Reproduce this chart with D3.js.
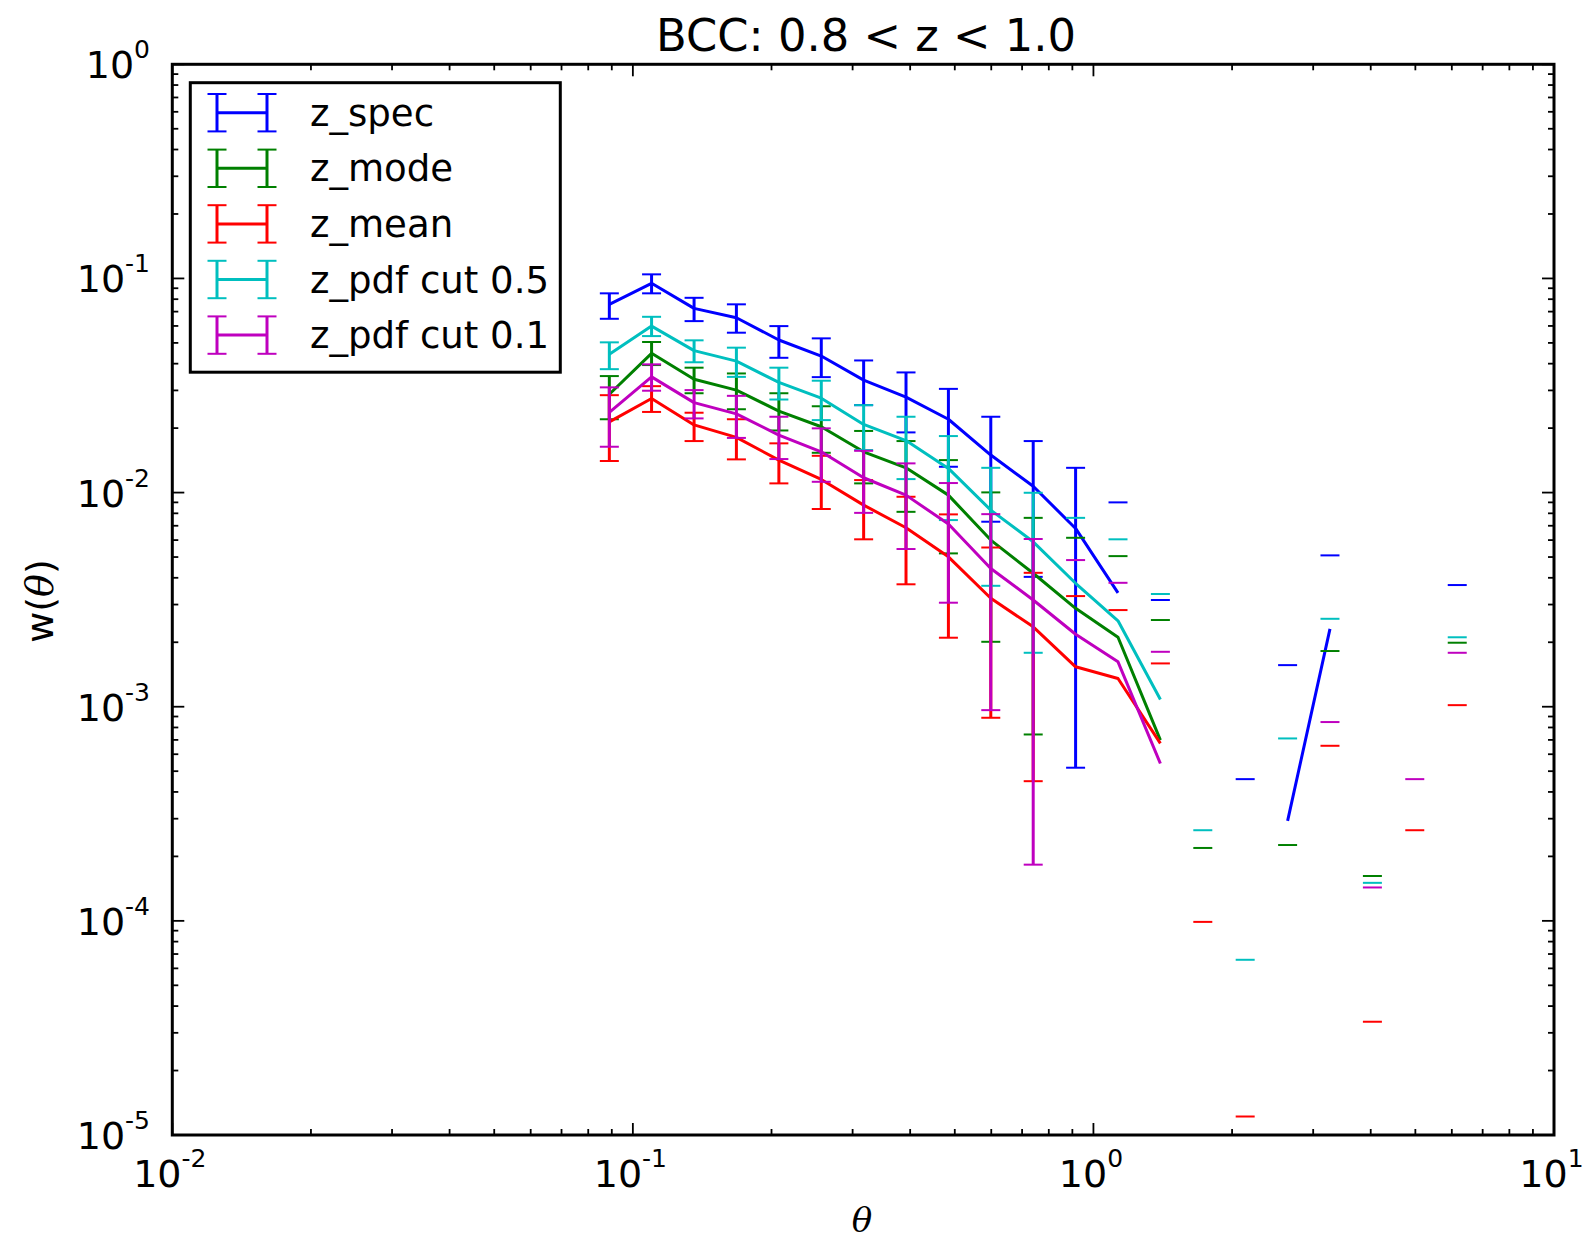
<!DOCTYPE html>
<html>
<head>
<meta charset="utf-8">
<script src="https://cdn.jsdelivr.net/npm/d3@7"></script>
<style>
  html, body { margin: 0; padding: 0; background: #ffffff; }
  svg { display: block; }
</style>
</head>
<body>
<svg id="chart" width="1585" height="1241"></svg>
<script>
// ---------------- data ----------------
const theta = [0.0889, 0.1098, 0.1358, 0.1678, 0.2075, 0.2565, 0.3170, 0.3918, 0.4843, 0.5986,
               0.7400, 0.9147, 1.1307, 1.3976, 1.7277, 2.1354, 2.6399, 3.2628, 4.0337, 4.9854, 6.1646];

// z_spec
const specVal = [0.0757, 0.0949, 0.0725, 0.0655, 0.0516, 0.0434, 0.0335, 0.0279, 0.0220, 0.01497,
                 0.0107, 0.0068, 0.0034, null, null, null, 0.000293, 0.00231, null, null, null];
const specHi  = [0.0852, 0.1045, 0.0812, 0.0757, 0.0599, 0.0525, 0.0414, 0.0364, 0.0305, 0.0226,
                 0.0174, 0.01305, 0.0090, 0.00315, null, 0.000459, 0.001564, 0.00509, null, null, 0.0037];
const specLo  = [0.0648, 0.0852, 0.0632, 0.0558, 0.0426, 0.0346, 0.0256, 0.0191, 0.0132, 0.00731,
                 0.00404, 0.000519, null, null, null, null, null, null, null, null, null];

// z_mode
const modeVal = [0.0288, 0.0447, 0.0338, 0.0301, 0.0240, 0.0203, 0.0155, 0.01305, 0.00973, 0.0060,
                 0.0042, 0.00288, 0.00211, 0.000698, null, null, null, null, null, null, null];
const modeHi  = [0.0350, 0.0505, 0.0383, 0.0360, 0.0291, 0.0253, 0.0194, 0.0174, 0.01418, 0.01002,
                 0.00762, 0.00615, 0.00505, 0.00254, 0.000219, null, 0.000226, 0.00182, 0.000162, null, 0.00199];
const modeLo  = [0.0220, 0.0394, 0.0291, 0.0245, 0.0195, 0.01534, 0.01104, 0.00813, 0.0052, 0.00201,
                 0.000742, null, null, null, null, null, null, null, null, null, null];

// z_mean
const meanVal = [0.0214, 0.0275, 0.0207, 0.0181, 0.01418, 0.01152, 0.00874, 0.00685, 0.00501, 0.00321,
                 0.00236, 0.001536, 0.001355, 0.000674, null, null, null, null, null, null, null];
const meanHi  = [0.0285, 0.0314, 0.0236, 0.0220, 0.01698, 0.01485, 0.01144, 0.00956, 0.00791, 0.00554,
                 0.00422, 0.003286, 0.002827, 0.001593, 0.0000989, 0.0000122, null, 0.000657, 0.0000338, 0.000265, 0.001017];
const meanLo  = [0.01404, 0.0238, 0.0174, 0.01429, 0.01104, 0.00838, 0.00605, 0.00373, 0.0021, 0.000888,
                 0.000449, null, null, null, null, null, null, null, null, null, null];

// z_pdf cut 0.5
const pdf5Val = [0.0442, 0.0599, 0.0460, 0.0411, 0.0327, 0.0276, 0.0208, 0.0175, 0.01297, 0.00828,
                 0.00589, 0.00377, 0.00252, 0.00108, null, null, null, null, null, null, null];
const pdf5Hi  = [0.0503, 0.0662, 0.0514, 0.0475, 0.0383, 0.0333, 0.0256, 0.0226, 0.01836, 0.01305,
                 0.00998, 0.00762, 0.00605, 0.00336, 0.000265, 0.0000658, 0.000711, 0.002574, 0.0001505, null, 0.00211];
const pdf5Lo  = [0.0377, 0.0538, 0.0406, 0.0347, 0.0272, 0.0218, 0.0158, 0.01156, 0.00744, 0.00367,
                 0.001786, null, null, null, null, null, null, null, null, null, null];

// z_pdf cut 0.1
const pdf1Val = [0.0237, 0.0347, 0.0263, 0.0233, 0.01856, 0.0155, 0.01173, 0.00973, 0.00713, 0.00442,
                 0.00315, 0.00218, 0.00162, 0.000543, null, null, null, null, null, null, null];
const pdf1Hi  = [0.0310, 0.0397, 0.0301, 0.0283, 0.0226, 0.01995, 0.01567, 0.01369, 0.01108, 0.00793,
                 0.00607, 0.00484, 0.00379, 0.001805, null, null, null, 0.000848, 0.0001432, 0.000459, 0.001786];
const pdf1Lo  = [0.01637, 0.0299, 0.0222, 0.0180, 0.01434, 0.01123, 0.00804, 0.00545, 0.00306, 0.000964,
                 0.000183, null, null, null, null, null, null, null, null, null, null];

const seriesNames = ["z_spec", "z_mode", "z_mean", "z_pdf cut 0.5", "z_pdf cut 0.1"];
const seriesColors = ["#0000ff", "#008000", "#ff0000", "#00bfbf", "#bf00bf"];
const xTickExps = [-2, -1, 0, 1];
const yTickExps = [0, -1, -2, -3, -4, -5];
const titleText = "BCC: 0.8 < z < 1.0";

const seriesData = [
  { name: seriesNames[0], color: seriesColors[0], val: specVal, hi: specHi, lo: specLo },
  { name: seriesNames[1], color: seriesColors[1], val: modeVal, hi: modeHi, lo: modeLo },
  { name: seriesNames[2], color: seriesColors[2], val: meanVal, hi: meanHi, lo: meanLo },
  { name: seriesNames[3], color: seriesColors[3], val: pdf5Val, hi: pdf5Hi, lo: pdf5Lo },
  { name: seriesNames[4], color: seriesColors[4], val: pdf1Val, hi: pdf1Hi, lo: pdf1Lo }
];

// ---------------- layout ----------------
const L = 172.3, R = 1554, T = 64.3, B = 1135;
const svg = d3.select("#chart");
const x = d3.scaleLog().domain([0.01, 10]).range([L, R]);
const y = d3.scaleLog().domain([1e-5, 1]).range([B, T]);

const FONT = "'DejaVu Sans', sans-serif";
const TICKFS = 38, SUPFS = 25, SUPDY = -20;

svg.append("defs").append("clipPath").attr("id", "clip")
  .append("rect").attr("x", L).attr("y", T).attr("width", R - L).attr("height", B - T);

const plot = svg.append("g").attr("clip-path", "url(#clip)");

const capHalf = 9.5;
seriesData.forEach(s => {
  const g = plot.append("g");
  const pts = theta.map((t, i) => ({ t, v: s.val[i], hi: s.hi[i], lo: s.lo[i] }));
  g.selectAll("line.bar").data(pts.filter(d => d.hi != null && d.lo != null)).join("line")
    .attr("x1", d => x(d.t)).attr("x2", d => x(d.t))
    .attr("y1", d => y(d.lo)).attr("y2", d => y(d.hi))
    .attr("stroke", s.color).attr("stroke-width", 3);
  const caps = [];
  pts.forEach(d => {
    if (d.hi != null) caps.push({ t: d.t, v: d.hi });
    if (d.lo != null) caps.push({ t: d.t, v: d.lo });
  });
  g.selectAll("line.cap").data(caps).join("line")
    .attr("x1", d => x(d.t) - capHalf).attr("x2", d => x(d.t) + capHalf)
    .attr("y1", d => y(d.v)).attr("y2", d => y(d.v))
    .attr("stroke", s.color).attr("stroke-width", 2);
  const line = d3.line().defined(d => d.v != null).x(d => x(d.t)).y(d => y(d.v));
  g.append("path").attr("d", line(pts))
    .attr("fill", "none").attr("stroke", s.color).attr("stroke-width", 3)
    .attr("stroke-linejoin", "round");
});

// ---------------- axes frame & ticks ----------------
const axes = svg.append("g");
const majX = xTickExps.map(e => Math.pow(10, e));
const minX = [];
for (let e = -2; e < 1; e++) for (let k = 2; k <= 9; k++) minX.push(k * Math.pow(10, e));
const majY = yTickExps.map(e => Math.pow(10, e));
const minY = [];
for (let e = -5; e < 0; e++) for (let k = 2; k <= 9; k++) minY.push(k * Math.pow(10, e));

function tickLines(vals, len, isX) {
  vals.forEach(v => {
    if (isX) {
      const px = x(v);
      axes.append("line").attr("x1", px).attr("x2", px).attr("y1", B).attr("y2", B - len)
        .attr("stroke", "#000").attr("stroke-width", 1.8);
      axes.append("line").attr("x1", px).attr("x2", px).attr("y1", T).attr("y2", T + len)
        .attr("stroke", "#000").attr("stroke-width", 1.8);
    } else {
      const py = y(v);
      axes.append("line").attr("x1", L).attr("x2", L + len).attr("y1", py).attr("y2", py)
        .attr("stroke", "#000").attr("stroke-width", 1.8);
      axes.append("line").attr("x1", R).attr("x2", R - len).attr("y1", py).attr("y2", py)
        .attr("stroke", "#000").attr("stroke-width", 1.8);
    }
  });
}
tickLines(majX, 12, true);
tickLines(minX, 6, true);
tickLines(majY, 12, false);
tickLines(minY, 6, false);

axes.append("rect").attr("x", L).attr("y", T).attr("width", R - L).attr("height", B - T)
  .attr("fill", "none").attr("stroke", "#000").attr("stroke-width", 3);

xTickExps.forEach(e => {
  const t = axes.append("text").attr("x", x(Math.pow(10, e)) - 2.5).attr("y", 1187)
    .attr("text-anchor", "middle").attr("font-family", FONT).attr("font-size", TICKFS).attr("fill", "#000");
  t.append("tspan").text("10");
  t.append("tspan").attr("font-size", SUPFS).attr("dy", SUPDY).text(String(e));
});
yTickExps.forEach(e => {
  const t = axes.append("text").attr("x", 150).attr("y", y(Math.pow(10, e)) + 14)
    .attr("text-anchor", "end").attr("font-family", FONT).attr("font-size", TICKFS).attr("fill", "#000");
  t.append("tspan").text("10");
  t.append("tspan").attr("font-size", SUPFS).attr("dy", SUPDY).text(String(e));
});

// axis labels
svg.append("text").attr("x", 862).attr("y", 1232).attr("text-anchor", "middle")
  .attr("font-family", "'DejaVu Serif', serif").attr("font-style", "italic")
  .attr("font-size", 34).text("θ");
const yl = svg.append("text").attr("transform", "translate(53,601) rotate(-90)")
  .attr("text-anchor", "middle").attr("font-family", FONT).attr("font-size", 38);
yl.append("tspan").text("w(");
yl.append("tspan").attr("font-family", "'DejaVu Serif', serif").attr("font-style", "italic").text("θ");
yl.append("tspan").text(")");

// title
svg.append("text").attr("x", 866).attr("y", 50.5).attr("text-anchor", "middle")
  .attr("font-family", FONT).attr("font-size", 44.8).text(titleText);

// ---------------- legend ----------------
const lg = svg.append("g");
lg.append("rect").attr("x", 190.3).attr("y", 82.7).attr("width", 370).attr("height", 289.5)
  .attr("fill", "#fff").attr("stroke", "#000").attr("stroke-width", 3);
const legY0 = 112.7, legDy = 55.6, hx1 = 217, hx2 = 267, hh = 18.7;
seriesData.forEach((s, i) => {
  const cy = legY0 + i * legDy;
  lg.append("line").attr("x1", hx1).attr("x2", hx2).attr("y1", cy).attr("y2", cy)
    .attr("stroke", s.color).attr("stroke-width", 3);
  [hx1, hx2].forEach(hx => {
    lg.append("line").attr("x1", hx).attr("x2", hx).attr("y1", cy - hh).attr("y2", cy + hh)
      .attr("stroke", s.color).attr("stroke-width", 3);
    lg.append("line").attr("x1", hx - capHalf).attr("x2", hx + capHalf).attr("y1", cy - hh).attr("y2", cy - hh)
      .attr("stroke", s.color).attr("stroke-width", 2);
    lg.append("line").attr("x1", hx - capHalf).attr("x2", hx + capHalf).attr("y1", cy + hh).attr("y2", cy + hh)
      .attr("stroke", s.color).attr("stroke-width", 2);
  });
  lg.append("text").attr("x", 310).attr("y", cy + 13).attr("font-family", FONT)
    .attr("font-size", 37.1).attr("fill", "#000").text(s.name);
});
</script>
</body>
</html>
